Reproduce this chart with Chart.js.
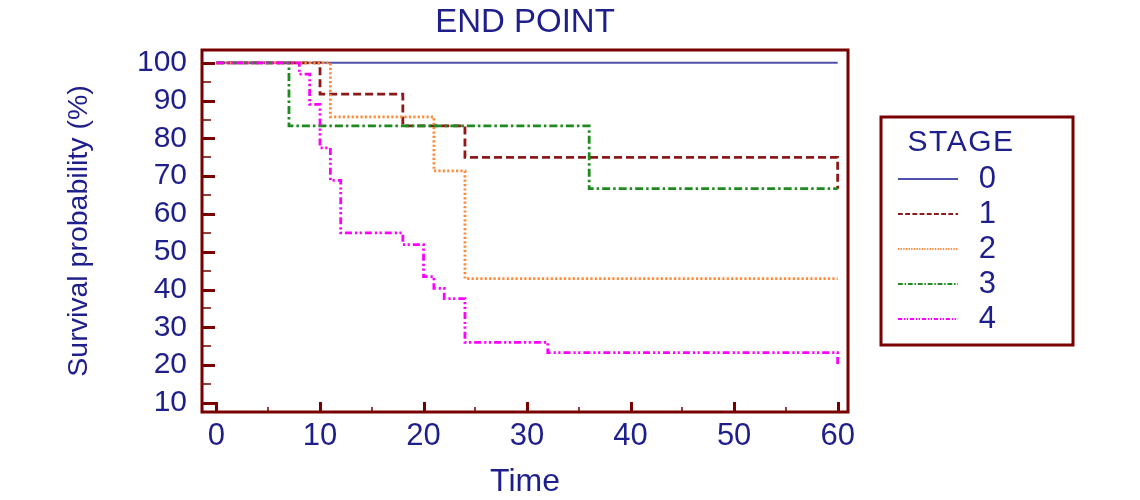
<!DOCTYPE html>
<html><head><meta charset="utf-8">
<script src="https://cdn.jsdelivr.net/npm/chart.js@4.4.1/dist/chart.umd.min.js"></script>
<style>html,body{margin:0;padding:0;background:#fff;}#wrap{width:1140px;height:500px;}</style>
</head><body><div id="wrap"><canvas id="c" width="1140" height="500"></canvas></div>
<script>
// ---- text ----
const chartTitle = 'END POINT';
const xTitle = 'Time';
const yTitle = 'Survival probability (%)';
const legendTitle = 'STAGE';
const stages = ['0', '1', '2', '3', '4'];

// ---- ticks ----
const xTicks = [0, 10, 20, 30, 40, 50, 60];
const xMinorTicks = [5, 15, 25, 35, 45, 55];
const yTicks = [10, 20, 30, 40, 50, 60, 70, 80, 90, 100];
const yMinorTicks = [15, 25, 35, 45, 55, 65, 75, 85, 95];

// ---- data (time, survival %) ----
const stage0Time = [0, 60];
const stage0Surv = [100, 100];
const stage1Time = [0, 10, 18, 24, 60];
const stage1Surv = [100, 91.7, 83.3, 75.0, 66.7];
const stage2Time = [0, 11, 21, 24, 60];
const stage2Surv = [100, 85.7, 71.4, 42.9, 42.9];
const stage3Time = [0, 7, 36, 60];
const stage3Surv = [100, 83.3, 66.7, 66.7];
const stage4Time = [0, 8, 9, 10, 11, 12, 18, 20, 21, 22, 24, 32, 60];
const stage4Surv = [100, 97.0, 89.0, 77.5, 68.9, 55.0, 51.9, 43.4, 40.3, 37.6, 26.0, 23.3, 20.0];

const times = [stage0Time, stage1Time, stage2Time, stage3Time, stage4Time];
const survs = [stage0Surv, stage1Surv, stage2Surv, stage3Surv, stage4Surv];

const colors = ['#5050ac', '#8b1a1a', '#ff8a3a', '#1f8a1f', '#ff00ff'];
const dashes = [[], [8, 4], [2.2, 2.2], [8, 3, 2.5, 3], [7, 3, 2.2, 2.5, 2.2, 3]];
const widths = [2, 2.8, 2.8, 2.8, 2.8];

const NAVY = '#1f1f8c';
const MAROON = '#780000';
const FONT = '"Liberation Sans", Arial, Helvetica, sans-serif';

const datasets = stages.map((s, i) => ({
  label: s,
  data: times[i].map((t, k) => ({x: t, y: survs[i][k]})),
  stepped: 'before',
  borderColor: colors[i],
  backgroundColor: colors[i],
  borderDash: dashes[i],
  borderWidth: widths[i],
  borderCapStyle: 'butt',
  pointRadius: 0,
  fill: false,
  order: stages.length - 1 - i
}));

const framePlugin = {
  id: 'frame',
  afterDatasetsDraw(chart) {
    const {ctx, chartArea: a, scales: {x, y}} = chart;
    ctx.save();
    ctx.strokeStyle = MAROON;
    ctx.setLineDash([]);
    ctx.lineWidth = 3;
    yTicks.forEach(v => { const p = Math.round(y.getPixelForValue(v)) + 0.5; ctx.beginPath(); ctx.moveTo(a.left, p); ctx.lineTo(a.left + 13, p); ctx.stroke(); });
    ctx.lineWidth = 2;
    ctx.strokeStyle = '#944040';
    yMinorTicks.forEach(v => { const p = Math.round(y.getPixelForValue(v)); ctx.beginPath(); ctx.moveTo(a.left, p); ctx.lineTo(a.left + 9, p); ctx.stroke(); });
    ctx.strokeStyle = MAROON;
    ctx.lineWidth = 3;
    xTicks.forEach(v => { const p = Math.round(x.getPixelForValue(v)) + 0.5; ctx.beginPath(); ctx.moveTo(p, a.bottom); ctx.lineTo(p, a.bottom - 10); ctx.stroke(); });
    ctx.lineWidth = 2;
    ctx.strokeStyle = '#944040';
    xMinorTicks.forEach(v => { const p = Math.round(x.getPixelForValue(v)); ctx.beginPath(); ctx.moveTo(p, a.bottom); ctx.lineTo(p, a.bottom - 5); ctx.stroke(); });
    ctx.strokeStyle = MAROON;
    ctx.lineWidth = 3;
    ctx.strokeRect(a.left, a.top, a.right - a.left, a.bottom - a.top);
    ctx.restore();
  }
};

const legendPlugin = {
  id: 'stageLegend',
  afterDraw(chart) {
    const {ctx} = chart;
    const a = chart.chartArea;
    const bx = a.right + 33, by = a.top + 67, bw = 192, bh = 228;
    ctx.save();
    ctx.strokeStyle = MAROON;
    ctx.lineWidth = 3;
    ctx.setLineDash([]);
    ctx.strokeRect(bx, by, bw, bh);
    ctx.fillStyle = NAVY;
    ctx.textAlign = 'center';
    ctx.textBaseline = 'middle';
    ctx.font = '30px ' + FONT;
    if ('letterSpacing' in ctx) ctx.letterSpacing = '1.5px';
    ctx.fillText(legendTitle, bx + 80, by + 26);
    ctx.font = '31px ' + FONT;
    chart.data.datasets.forEach((ds, i) => {
      const yy = by + 62 + 35 * i;
      ctx.strokeStyle = ds.borderColor;
      ctx.lineWidth = 1.8;
      ctx.setLineDash((ds.borderDash || []).map(d => d * 0.6));
      ctx.beginPath(); ctx.moveTo(bx + 17, yy); ctx.lineTo(bx + 77, yy); ctx.stroke();
      ctx.setLineDash([]);
      ctx.fillText(ds.label, bx + 107, yy);
    });
    ctx.restore();
  }
};

new Chart(document.getElementById('c'), {
  type: 'line',
  data: {datasets},
  options: {
    responsive: false,
    animation: false,
    devicePixelRatio: 1,
    layout: {padding: {left: 0, right: 292, top: 0, bottom: 0}},
    plugins: {
      legend: {display: false},
      tooltip: {enabled: false},
      title: {
        display: true, text: chartTitle, fullSize: false, color: NAVY,
        font: {family: FONT, size: 33, weight: 'normal'},
        padding: {top: 3, bottom: 7.4}
      }
    },
    scales: {
      x: {
        type: 'linear', min: -1.4, max: 61,
        afterBuildTicks: s => { s.ticks = xTicks.map(v => ({value: v})); },
        afterFit: s => { s.height = 88; },
        grid: {display: false, drawTicks: false, tickLength: 0},
        border: {display: false},
        ticks: {color: NAVY, font: {family: FONT, size: 31}, padding: 6, autoSkip: false, maxRotation: 0},
        title: {display: true, text: xTitle, color: NAVY, font: {family: FONT, size: 32}, padding: {top: 0, bottom: -1}}
      },
      y: {
        type: 'linear', min: 7.6, max: 103.4,
        afterBuildTicks: s => { s.ticks = yTicks.map(v => ({value: v})); },
        afterFit: s => { s.width = 202; },
        grid: {display: false, drawTicks: false, tickLength: 0},
        border: {display: false},
        ticks: {color: NAVY, font: {family: FONT, size: 30}, padding: 15, autoSkip: false},
        title: {display: true, text: yTitle, color: NAVY, font: {family: FONT, size: 28.5}, padding: {top: 62, bottom: 0}}
      }
    }
  },
  plugins: [framePlugin, legendPlugin]
});
</script>
</body></html>
